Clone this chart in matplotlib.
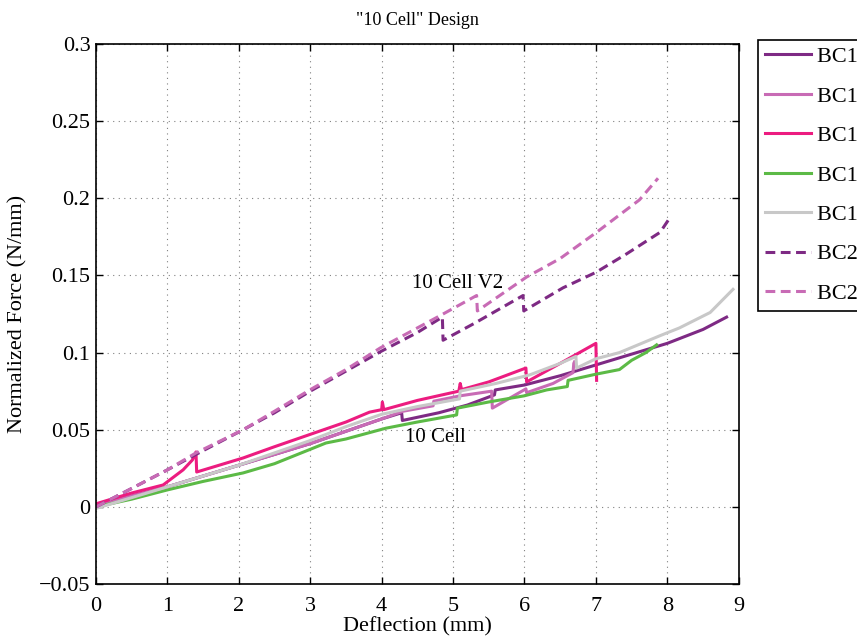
import matplotlib
matplotlib.use("Agg")
import matplotlib.pyplot as plt
from matplotlib.ticker import FuncFormatter, MultipleLocator

plt.rcParams['font.family'] = ['Liberation Serif', 'DejaVu Serif']

# BC1 tests (solid)
bc1a_x = [0, 0.5, 1, 1.5, 2, 2.5, 3, 3.5, 4, 4.28, 4.29, 4.8, 5.2, 5.58, 5.59, 6.0, 6.5, 7.0, 7.5, 8.0, 8.5, 8.83]
bc1a_y = [0.001, 0.007, 0.013, 0.020, 0.027, 0.034, 0.041, 0.049, 0.057, 0.061, 0.056, 0.061, 0.066, 0.0726, 0.0758, 0.079, 0.085, 0.092, 0.099, 0.106, 0.115, 0.123]

bc1b_x = [0, 0.5, 1, 1.5, 2, 2.5, 3, 3.5, 4, 4.3, 4.72, 4.73, 5.1, 5.54, 5.55, 6.02, 6.03, 6.4, 6.68, 6.69, 6.7]
bc1b_y = [0.001, 0.007, 0.013, 0.020, 0.027, 0.034, 0.041, 0.049, 0.057, 0.062, 0.0655, 0.0685, 0.072, 0.075, 0.064, 0.0765, 0.074, 0.080, 0.087, 0.093, 0.094]

bc1c_x = [0, 0.5, 0.94, 1.22, 1.35, 1.4, 1.41, 2.06, 2.5, 3.0, 3.5, 3.83, 4.0, 4.01, 4.03, 4.5, 5.08, 5.1, 5.12, 5.5, 6.02, 6.03, 6.5, 7.0, 7.01]
bc1c_y = [0.002, 0.009, 0.0142, 0.024, 0.0304, 0.0356, 0.0226, 0.0317, 0.039, 0.047, 0.055, 0.0614, 0.063, 0.068, 0.063, 0.069, 0.075, 0.080, 0.076, 0.081, 0.090, 0.081, 0.093, 0.106, 0.082]

bc1d_x = [0, 0.5, 1.0, 1.5, 2.06, 2.5, 3.22, 3.5, 4.06, 4.5, 5.05, 5.06, 5.5, 6.0, 6.31, 6.6, 6.61, 7.0, 7.33, 7.5, 7.7, 7.85]
bc1d_y = [0.0, 0.005, 0.011, 0.0165, 0.022, 0.028, 0.0414, 0.044, 0.051, 0.055, 0.0596, 0.064, 0.068, 0.072, 0.0758, 0.078, 0.082, 0.086, 0.089, 0.095, 0.100, 0.105]

bc1e_x = [0, 0.5, 1, 1.5, 2, 2.5, 3, 3.5, 4, 4.5, 5.09, 5.1, 5.6, 6.07, 6.5, 6.72, 6.73, 7.0, 7.33, 7.9, 8.17, 8.6, 8.92]
bc1e_y = [-0.001, 0.006, 0.013, 0.020, 0.027, 0.035, 0.043, 0.052, 0.060, 0.065, 0.070, 0.075, 0.080, 0.0855, 0.093, 0.0975, 0.090, 0.096, 0.100, 0.111, 0.116, 0.126, 0.141]

# BC2 tests (dashed)
bc2a_x = [0, 0.46, 1, 1.4, 2.06, 2.5, 3, 3.5, 4, 4.5, 4.85, 4.86, 5.3, 5.98, 5.99, 6.54, 7.0, 7.43, 7.9, 8.03]
bc2a_y = [0.0, 0.011, 0.024, 0.034, 0.050, 0.061, 0.075, 0.088, 0.101, 0.113, 0.123, 0.108, 0.119, 0.137, 0.127, 0.142, 0.152, 0.164, 0.178, 0.187]

bc2b_x = [0, 0.46, 1, 1.4, 2.06, 2.5, 3, 3.5, 3.98, 4.5, 4.82, 5.33, 5.34, 6.03, 6.5, 7.01, 7.61, 7.87]
bc2b_y = [0.0, 0.011, 0.024, 0.035, 0.050, 0.062, 0.076, 0.089, 0.103, 0.116, 0.124, 0.137, 0.127, 0.149, 0.161, 0.178, 0.199, 0.213]

labels = ["BC1 Test 1", "BC1 Test 2", "BC1 Test 3", "BC1 Test 4", "BC1 Test 5", "BC2 Test 1", "BC2 Test 2"]
dark = "#7e2a84"
orchid = "#c86bb5"
pink = "#ec1c80"
green = "#5cba46"
grey = "#c8c8c8"

fig = plt.figure(figsize=(8.57, 6.38), dpi=100)
ax = fig.add_axes([0.112, 0.0846, 0.75, 0.8464])

lw = 2.2
dash = (0, (3.2, 1.8))
ax.plot(bc1a_x, bc1a_y, color=dark, lw=lw, label=labels[0])
ax.plot(bc1b_x, bc1b_y, color=orchid, lw=lw, label=labels[1])
ax.plot(bc1c_x, bc1c_y, color=pink, lw=lw, label=labels[2])
ax.plot(bc1d_x, bc1d_y, color=green, lw=lw, label=labels[3])
ax.plot(bc1e_x, bc1e_y, color=grey, lw=lw, label=labels[4])
ax.plot(bc2a_x, bc2a_y, color=dark, lw=lw, ls=dash, label=labels[5])
ax.plot(bc2b_x, bc2b_y, color=orchid, lw=lw, ls=dash, label=labels[6])

ax.text(4.42, 0.145, "10 Cell V2", fontsize=15, va='center')
ax.text(4.33, 0.0447, "10 Cell", fontsize=15, va='center')

ax.set_xlim(0, 9)
ax.set_ylim(-0.05, 0.3)
ax.xaxis.set_major_locator(MultipleLocator(1))
ax.yaxis.set_major_locator(MultipleLocator(0.05))
ax.yaxis.set_major_formatter(FuncFormatter(lambda v, p: ("%g" % round(v, 3)).replace("-", "\u2212")))
ax.tick_params(direction='in', top=True, right=True, labelsize=16, length=5, width=1)
ax.tick_params(axis='x', pad=9)
ax.tick_params(axis='y', pad=4)
ax.grid(True, ls=(0, (1, 4)), color='#808080', lw=0.8)
for s in ax.spines.values():
    s.set_linewidth(1.2)

ax.set_xlabel("Deflection (mm)", fontsize=16, labelpad=1)
ax.set_ylabel("Normalized Force (N/mm)", fontsize=16, labelpad=8)
ax.set_title('"10 Cell" Design', fontsize=13, pad=14)

leg = ax.legend(loc='upper left', bbox_to_anchor=(758/857, 1-40/638), bbox_transform=fig.transFigure,
                fancybox=False, edgecolor='black', framealpha=1, fontsize=16, handlelength=2.1,
                handletextpad=0.25, borderpad=0.3, labelspacing=0.85, borderaxespad=0)
leg.get_frame().set_linewidth(1.2)

fig.savefig("out.png", dpi=100)
